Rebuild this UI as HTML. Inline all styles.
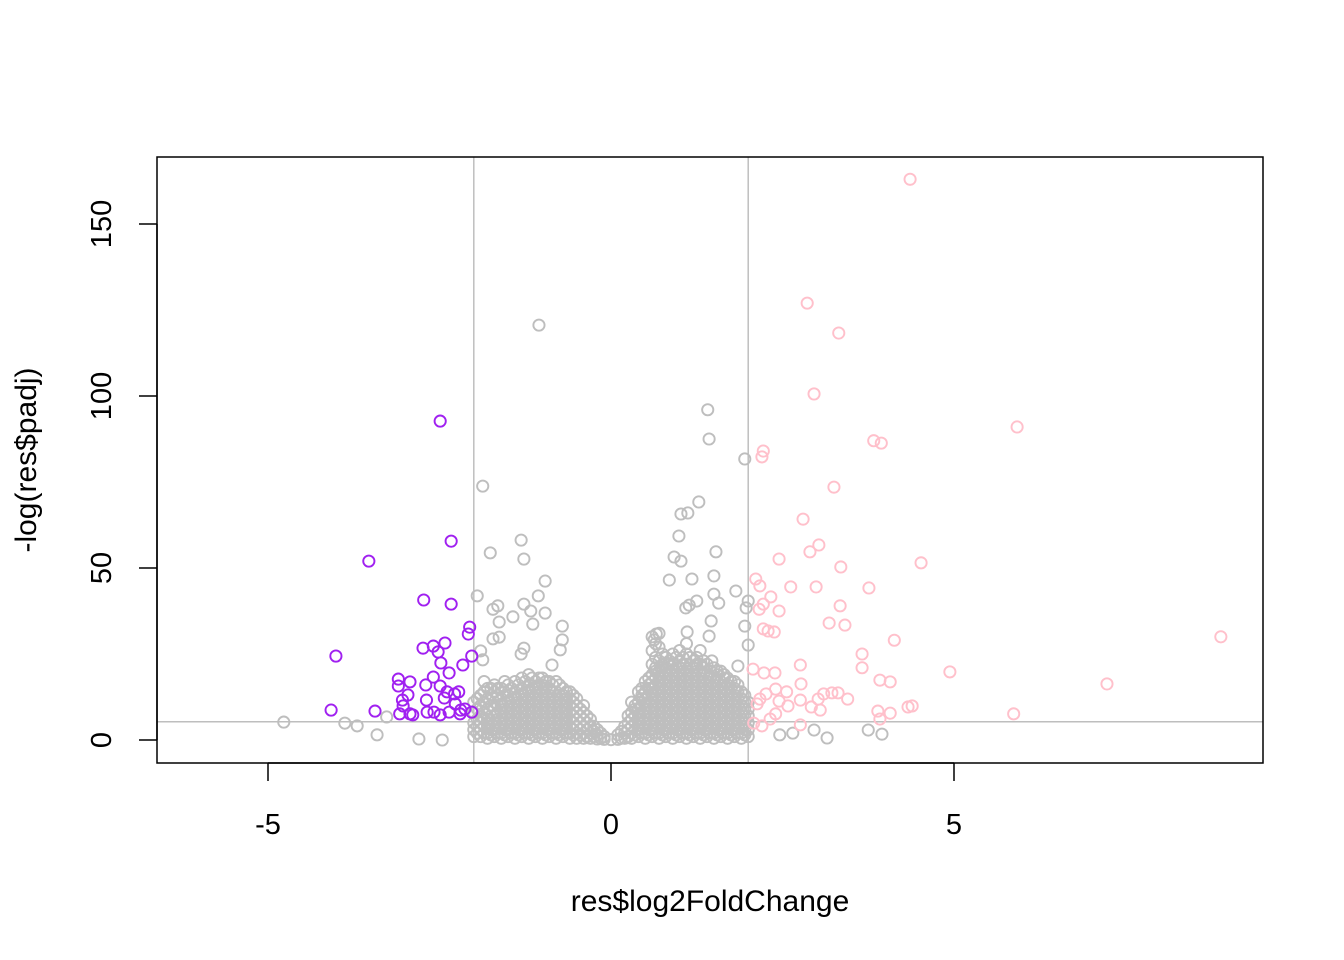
<!DOCTYPE html>
<html><head><meta charset="utf-8"><style>
body{margin:0;background:#fff;}
svg{display:block;font-family:"Liberation Sans",Arial,sans-serif;}
</style></head><body>
<svg id="chart" width="1344" height="960">
<rect width="1344" height="960" fill="#fff"/>
<g id="grid"></g>
<g id="pts"></g>
<rect x="157" y="157" width="1106" height="606" fill="none" stroke="#000" stroke-width="1.5"/>
<g id="axes"></g>
<text x="710" y="911" font-size="30" text-anchor="middle">res$log2FoldChange</text>
<text transform="translate(36,460) rotate(-90)" font-size="30" text-anchor="middle">-log(res$padj)</text>
</svg>
<script>
const xTicks=[-5,0,5];
const yTicks=[0,50,100,150];
const vLines=[-2,2];
const hLine=5.3;
const pinkX=[4.36,2.86,3.32,2.96,5.92,2.22,2.2,3.83,3.94,3.25,2.8,3.03,2.9,2.45,4.52,3.35,2.11,2.17,2.62,2.99,3.76,2.33,2.22,2.16,2.45,3.34,3.18,3.41,2.22,2.38,2.29,8.89,4.13,3.66,3.66,2.76,2.07,2.23,2.39,4.94,3.92,4.07,7.23,2.77,2.4,2.56,2.26,3.1,3.22,3.31,3.45,3.02,2.76,2.17,2.45,2.13,2.58,2.92,3.05,4.33,4.39,3.89,4.07,5.87,2.4,2.32,3.92,2.08,2.76,2.2];
const pinkY=[163,127,118.3,100.6,91,84,82.3,87,86.3,73.5,64.2,56.7,54.7,52.6,51.5,50.3,46.8,44.8,44.5,44.5,44.2,41.6,39.5,38,37.5,39,34,33.4,32.3,31.4,31.7,30,29,25,21,21.8,20.6,19.5,19.5,19.8,17.4,16.9,16.3,16.3,14.8,14,13.4,13.4,13.7,13.7,11.9,11.9,11.6,11.9,11.3,10.5,9.9,9.6,8.7,9.6,9.9,8.4,7.8,7.6,7.6,6.1,6.1,4.9,4.4,4.1];
const purpleX=[-2.49,-2.33,-3.53,-2.73,-2.33,-4.01,-4.08,-2.06,-2.08,-2.03,-2.42,-2.59,-2.74,-2.52,-2.48,-2.16,-2.36,-2.59,-3.1,-2.93,-2.49,-2.7,-3.1,-2.22,-2.39,-2.28,-2.96,-2.43,-3.04,-2.69,-2.27,-3.44,-3.03,-2.13,-2.19,-2.58,-3.08,-2.93,-2.89,-2.68,-2.03,-2.2,-2.49,-2.36];
const purpleY=[92.7,57.8,52,40.7,39.5,24.4,8.7,32.8,30.8,24.4,28.2,27.3,26.7,25.6,22.4,21.8,19.5,18.3,17.7,16.9,15.7,16,15.7,14,14,13.4,13.1,12.2,11.6,11.6,10.5,8.4,9.9,9,8.7,8.1,7.6,7.6,7.3,8.1,8.1,7.6,7.3,8.1];
const greyX=[-1.05,1.41,1.43,1.95,-1.87,1.28,1.12,1.02,0.99,-1.31,-1.76,-1.27,1.53,0.92,1.02,-0.96,1.5,0.85,1.18,1.82,-1.95,-1.06,1.5,2,1.97,1.25,-1.27,-1.65,-1.72,1.57,1.14,1.09,-1.17,-0.96,-1.63,-1.43,-1.14,-0.71,1.46,1.95,2,-1.63,-1.72,-0.71,-1.27,-1.31,0.66,0.63,1.11,1.43,-1.9,-1.87,-0.86,-0.74,1.85,1.47,-4.77,-3.88,-3.7,-3.41,-3.27,-2.8,-2.46,3.75,3.95,2.96,3.15,2.65,2.46];
const greyY=[120.6,96,87.5,81.7,73.8,69.2,66,65.7,59.3,58.1,54.4,52.6,54.7,53.2,52,46.2,47.7,46.5,46.8,43.3,41.9,41.9,42.4,40.4,38.4,40.4,39.5,39,38,39.8,39.2,38.4,37.5,36.9,34.3,35.8,33.7,33.1,34.6,33.1,27.6,29.9,29.4,29.1,26.7,25,30.8,29.1,31.4,30.2,25.9,23.3,21.8,26.2,21.5,23,5.2,4.9,4.1,1.5,6.7,0.3,0,2.9,1.7,2.9,0.6,2,1.5];
const cloudColX=[-2.0,-1.9,-1.8,-1.7,-1.6,-1.5,-1.4,-1.3,-1.2,-1.1,-1.0,-0.9,-0.8,-0.7,-0.6,-0.5,-0.4,-0.3,-0.2,-0.1,0,0.1,0.2,0.3,0.4,0.5,0.6,0.7,0.8,0.9,1.0,1.1,1.2,1.3,1.4,1.5,1.6,1.7,1.8,1.9,2.0];
const cloudColY=[
[1,3,5,8,11],[1,3,5,7,10,13],[0.5,2,4,6,9,12,15],[1,3,5,7,9,11,14,16],[0.5,2,4,6,8,10,12,15],
[1,3,5,7,9,11,13,16],[0.5,2,4,6,8,10,12,14,17],[1,3,5,7,9,11,13,15,18],[0.5,2,4,6,8,10,12,14,16,19],
[1,3,5,7,9,11,13,15,17],[0.5,2,4,6,8,10,12,14,16,18],[1,3,5,7,9,11,13,15,17],[0.5,2,4,6,8,10,12,14,17],
[1,3,5,7,9,11,13,15],[0.5,2,4,6,8,10,12,14],[0.5,2,4,6,8,10,12],[0.5,2,4,6,8,10],[0.5,2,4,6],[0.3,1.5,3],[0.2,1],[0.1],
[0.2,1.5],[0.5,2,4],[0.5,2,4,6,8,11],[1,3,5,7,9,11,14],[0.5,2,4,6,8,10,12,14,17],
[1,3,5,7,9,11,13,15,17,19,22,26,30],[0.5,2,4,6,8,10,12,14,16,18,20,23,27,31],[1,3,5,7,9,11,13,15,17,19,21,24],
[0.5,2,4,6,8,10,12,14,16,18,20,22,25],[1,3,5,7,9,11,13,15,17,19,21,23,26],[0.5,2,4,6,8,10,12,14,16,18,20,22,25,28],
[1,3,5,7,9,11,13,15,17,19,21,23],[0.5,2,4,6,8,10,12,14,16,18,20,22,26],[1,3,5,7,9,11,13,15,17,19,22],
[0.5,2,4,6,8,10,12,14,16,18,21],[1,3,5,7,9,11,13,15,17,20],[0.5,2,4,6,8,10,12,14,16,18],[1,3,5,7,9,11,13,15,17],
[0.5,2,4,6,8,10,12,14],[1,3,5,7,9,11]];
const cloud2ColX=[-1.95,-1.85,-1.75,-1.65,-1.55,-1.45,-1.35,-1.25,-1.15,-1.05,-0.95,-0.85,-0.75,-0.65,-0.55,-0.45,-0.35,-0.25,-0.15,0.15,0.25,0.35,0.45,0.55,0.65,0.75,0.85,0.95,1.05,1.15,1.25,1.35,1.45,1.55,1.65,1.75,1.85,1.95];
const cloud2ColY=[
[2,4,6,9,12],[2,4,6,8,11,14,17],[1.5,3,5,7,10,13,15],[2,4,6,8,10,13,15],[1.5,3,5,7,9,11,14,17],
[2,4,6,8,10,12,15],[1.5,3,5,7,9,11,13,16],[2,4,6,8,10,12,14,17],[1.5,3,5,7,9,11,13,15,18],
[2,4,6,8,10,12,14,16,18],[1.5,3,5,7,9,11,13,15,17],[2,4,6,8,10,12,14,16],[1.5,3,5,7,9,11,13,16],
[2,4,6,8,10,12,14],[1.5,3,5,7,9,11,13],[1.5,3,5,7,9],[1,3,5,7],[1,2.5,4],[0.5,2],
[0.5,2.5],[1,3,5,7],[1.5,3,5,7,9,10],[2,4,6,8,10,12,13,15],[1.5,3,5,7,9,11,13,15,16,18],
[2,4,6,8,10,12,14,16,18,20,21,24,28],[1.5,3,5,7,9,11,13,15,17,19,21,22,25],[2,4,6,8,10,12,14,16,18,20,22,23],
[1.5,3,5,7,9,11,13,15,17,19,21,24],[2,4,6,8,10,12,14,16,18,20,22,24],[1.5,3,5,7,9,11,13,15,17,19,21,24],
[2,4,6,8,10,12,14,16,18,20,22,24],[1.5,3,5,7,9,11,13,15,17,19,21,23],[2,4,6,8,10,12,14,16,18,20],
[1.5,3,5,7,9,11,13,15,17,19,20],[2,4,6,8,10,12,14,16,18,19],[1.5,3,5,7,9,11,13,15,17],[2,4,6,8,10,12,14,16],
[1.5,3,5,7,9,11,13]];

const NS='http://www.w3.org/2000/svg';
const sx=v=>611+v*68.6;
const sy=v=>740-v*3.44;
function mk(tag,attrs,parent){const e=document.createElementNS(NS,tag);for(const k in attrs)e.setAttribute(k,attrs[k]);parent.appendChild(e);return e;}
const grid=document.getElementById('grid'),pts=document.getElementById('pts'),axes=document.getElementById('axes');
vLines.forEach(v=>{const l=mk('line',{x1:sx(v),x2:sx(v),y1:157,y2:763,stroke:'#bebebe','stroke-width':1.5},grid);

});
{const l=mk('line',{x1:157,x2:1263,y1:sy(hLine),y2:sy(hLine),stroke:'#bebebe','stroke-width':1.5},grid);

}
function dot(x,y,col,name){const c=mk('circle',{cx:sx(x),cy:sy(y),r:5.6,fill:'none',stroke:col,'stroke-width':1.9},pts);

}
cloudColX.forEach((x,i)=>cloudColY[i].forEach(y=>dot(x,y,'#bebebe','point-ns')));
cloud2ColX.forEach((x,i)=>cloud2ColY[i].forEach(y=>dot(x,y,'#bebebe','point-ns')));
greyX.forEach((x,i)=>dot(x,greyY[i],'#bebebe','point-ns'));
pinkX.forEach((x,i)=>dot(x,pinkY[i],'#ffc0cb','point-up'));
purpleX.forEach((x,i)=>dot(x,purpleY[i],'#a020f0','point-down'));
mk('line',{x1:sx(xTicks[0]),x2:sx(xTicks[xTicks.length-1]),y1:763,y2:763,stroke:'#000','stroke-width':1.5},axes);
xTicks.forEach(v=>{mk('line',{x1:sx(v),x2:sx(v),y1:763,y2:781,stroke:'#000','stroke-width':1.5},axes);
const t=mk('text',{x:sx(v),y:834,'font-size':29,'text-anchor':'middle'},axes);t.textContent=v<0?'-'+Math.abs(v):String(v);

});
mk('line',{x1:157,x2:157,y1:sy(yTicks[0]),y2:sy(yTicks[yTicks.length-1]),stroke:'#000','stroke-width':1.5},axes);
yTicks.forEach(v=>{mk('line',{x1:139,x2:157,y1:sy(v),y2:sy(v),stroke:'#000','stroke-width':1.5},axes);
const t=mk('text',{transform:`translate(111,${sy(v)}) rotate(-90)`,'font-size':29,'text-anchor':'middle'},axes);t.textContent=String(v);

});
</script>
</body></html>
